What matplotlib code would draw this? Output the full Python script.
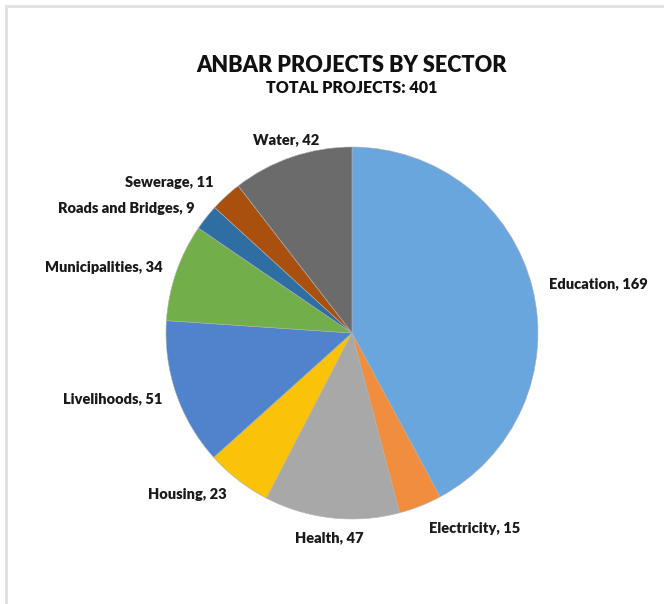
import numpy as np
import matplotlib
matplotlib.use("Agg")
import matplotlib.pyplot as plt
from matplotlib.lines import Line2D

plt.rcParams['font.family'] = ['Lato', 'DejaVu Sans']

# --- Data ---
sectors = ["Education", "Electricity", "Health", "Housing", "Livelihoods",
           "Municipalities", "Roads and Bridges", "Sewerage", "Water"]
projects = [169, 15, 47, 23, 51, 34, 9, 11, 42]
colors = ["#69a6de", "#f08d3e", "#a8a8a8", "#fbc20a", "#4f84cc",
          "#72ae4a", "#2f6ea3", "#a9500f", "#6b6b6b"]

W, H = 664, 604
fig = plt.figure(figsize=(W / 100, H / 100), dpi=100)

# light frame on top/left like the screenshot
fig.add_artist(Line2D([6 / W, 1], [1 - 6 / H, 1 - 6 / H], color="#e0e0e0", lw=2))
fig.add_artist(Line2D([6 / W, 6 / W], [0, 1 - 6 / H], color="#e0e0e0", lw=2))

# pie axes: center (352, 333), radius 186 px
cx, cy, r = 352, 333, 186
ax = fig.add_axes([(cx - r) / W, (H - cy - r) / H, 2 * r / W, 2 * r / H])
wedges, _ = ax.pie(projects, colors=colors, startangle=90, counterclock=False,
                   radius=1, wedgeprops=dict(edgecolor="#b0b0b0", linewidth=0.4))
ax.set_xlim(-1, 1)
ax.set_ylim(-1, 1)
ax.set_aspect("equal")
ax.axis("off")

# labels outside the slices
dist = [1.09, 1.13, 1.11, 1.1, 1.08, 1.08, 1.08, 1.1, 1.1]
for w, name, val, d in zip(wedges, sectors, projects, dist):
    ang = np.deg2rad((w.theta1 + w.theta2) / 2)
    x, y = d * np.cos(ang), d * np.sin(ang)
    if abs(np.cos(ang)) < 0.35:
        ha = "center"
    elif np.cos(ang) > 0:
        ha = "left"
    else:
        ha = "right"
    ax.text(x, y, f"{name}, {val}", ha=ha, va="center", fontsize=10.5,
            fontweight="heavy", color="#1a1a1a")

fig.text(352 / W, 1 - 66 / H, "ANBAR PROJECTS BY SECTOR", ha="center", va="center",
         fontsize=15.6, fontweight="heavy", color="#111111")
fig.text(352 / W, 1 - 88 / H, "TOTAL PROJECTS: 401", ha="center", va="center",
         fontsize=11.5, fontweight="heavy", color="#111111")

fig.savefig("out.png", dpi=100, facecolor="white")
